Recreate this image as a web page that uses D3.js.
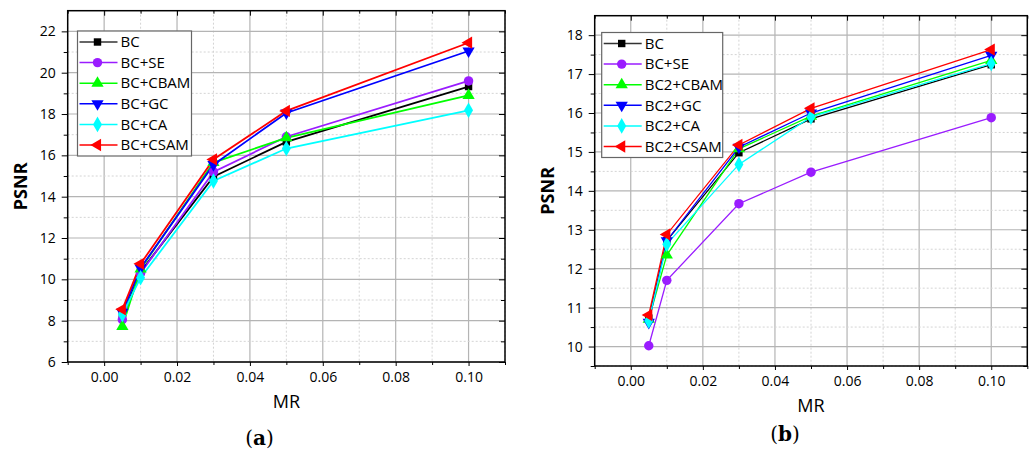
<!DOCTYPE html>
<html>
<head>
<meta charset="utf-8">
<script src="https://cdn.jsdelivr.net/npm/d3@7"></script>
<style>
  body { margin: 0; background: #fff; }
  svg { font-family: "Open Sans", "Noto Sans", sans-serif; }
</style>
</head>
<body>
<svg id="chart" width="1033" height="450"></svg>
<script>
// x values (MR) shared by both panels
const mr = [0.005, 0.01, 0.03, 0.05, 0.1];
const xTicks = [0, 0.02, 0.04, 0.06, 0.08, 0.1];

// panel (a)
const namesA = ['BC', 'BC+SE', 'BC+CBAM', 'BC+GC', 'BC+CA', 'BC+CSAM'];
const bcA   = [8.2, 10.37, 14.97, 16.65, 19.33];
const seA   = [8.05, 10.3, 15.2, 16.9, 19.6];
const cbamA = [7.72, 10.5, 15.65, 16.85, 18.9];
const gcA   = [8.4, 10.55, 15.55, 18.05, 21.05];
const caA   = [8.3, 10.08, 14.76, 16.33, 18.18];
const csamA = [8.55, 10.75, 15.8, 18.15, 21.45];

// panel (b)
const namesB = ['BC', 'BC+SE', 'BC2+CBAM', 'BC2+GC', 'BC2+CA', 'BC2+CSAM'];
const bcB   = [10.73, 12.72, 14.98, 15.85, 17.24];
const seB   = [10.02, 11.7, 13.67, 14.48, 15.88];
const cbamB = [10.7, 12.35, 15.08, 15.92, 17.35];
const gcB   = [10.62, 12.72, 15.12, 16.0, 17.48];
const caB   = [10.66, 12.63, 14.68, 15.9, 17.27];
const csamB = [10.81, 12.88, 15.18, 16.12, 17.63];

const colors = ['#000000', '#9a1cff', '#00ff00', '#0000ff', '#00ffff', '#ff0000'];
const symbols = [
  { type: d3.symbolSquare, rot: 0, size: 55 },
  { type: d3.symbolCircle, rot: 0, size: 70 },
  { type: d3.symbolTriangle, rot: 0, size: 65 },
  { type: d3.symbolTriangle, rot: 180, size: 65 },
  { type: d3.symbolDiamond, rot: 0, size: 70 },
  { type: d3.symbolTriangle, rot: -90, size: 65 }
];

const svg = d3.select('#chart');

function drawPanel(p) {
  const x = d3.scaleLinear().domain([-0.01, 0.11]).range([p.left, p.right]);
  const y = d3.scaleLinear().domain(p.yDomain).range([p.bottom, p.top]);
  const g = svg.append('g');

  const xMinor = [-0.01, 0.01, 0.03, 0.05, 0.07, 0.09, 0.11];
  const yMajor = d3.range(p.yTickStart, p.yDomain[1] + 0.001, p.yStep);
  const yMinor = d3.range(p.yTickStart + p.yStep / 2, p.yDomain[1], p.yStep)
    .concat(p.yTickStart - p.yStep / 2 >= p.yDomain[0] ? [p.yTickStart - p.yStep / 2] : []);

  // grid
  g.selectAll('.gx').data(xTicks).join('line')
    .attr('x1', d => x(d)).attr('x2', d => x(d)).attr('y1', p.top).attr('y2', p.bottom)
    .attr('stroke', '#b4b4b4').attr('stroke-width', 1.2);
  g.selectAll('.gxm').data(xMinor).join('line')
    .attr('x1', d => x(d)).attr('x2', d => x(d)).attr('y1', p.top).attr('y2', p.bottom)
    .attr('stroke', '#d4d4d4').attr('stroke-dasharray', '2,2');
  g.selectAll('.gy').data(yMajor).join('line')
    .attr('x1', p.left).attr('x2', p.right).attr('y1', d => y(d)).attr('y2', d => y(d))
    .attr('stroke', '#b4b4b4').attr('stroke-width', 1.2);
  g.selectAll('.gym').data(yMinor).join('line')
    .attr('x1', p.left).attr('x2', p.right).attr('y1', d => y(d)).attr('y2', d => y(d))
    .attr('stroke', '#d4d4d4').attr('stroke-dasharray', '2,2');

  // axes
  g.append('g').attr('transform', `translate(0,${p.bottom})`)
    .call(d3.axisBottom(x).tickValues(xTicks).tickFormat(d3.format('.2f')).tickSize(4).tickPadding(6));
  g.append('g').attr('transform', `translate(0,${p.bottom})`)
    .call(d3.axisBottom(x).tickValues(xMinor).tickFormat('').tickSize(3));
  g.append('g').attr('transform', `translate(${p.left},0)`)
    .call(d3.axisLeft(y).tickValues(yMajor).tickFormat(d3.format('d')).tickSize(6).tickPadding(6));
  g.append('g').attr('transform', `translate(${p.left},0)`)
    .call(d3.axisLeft(y).tickValues(yMinor).tickFormat('').tickSize(4));
  g.append('g').attr('transform', `translate(0,${p.top})`)
    .call(d3.axisBottom(x).tickValues(xTicks).tickFormat('').tickSize(5));
  g.append('g').attr('transform', `translate(0,${p.top})`)
    .call(d3.axisBottom(x).tickValues(xMinor).tickFormat('').tickSize(3));
  g.append('g').attr('transform', `translate(${p.right},0)`)
    .call(d3.axisLeft(y).tickValues(yMajor).tickFormat('').tickSize(6));
  g.append('g').attr('transform', `translate(${p.right},0)`)
    .call(d3.axisLeft(y).tickValues(yMinor).tickFormat('').tickSize(4));
  g.selectAll('.domain').remove();
  g.selectAll('.tick line').attr('stroke', '#000');
  g.selectAll('.tick text').attr('font-size', 14).attr('fill', '#000')
    .attr('font-family', '"Open Sans", sans-serif');

  g.append('rect')
    .attr('x', p.left).attr('y', p.top)
    .attr('width', p.right - p.left).attr('height', p.bottom - p.top)
    .attr('fill', 'none').attr('stroke', '#000').attr('stroke-width', 1.5);

  // series
  const line = d3.line().x((d, i) => x(mr[i])).y(d => y(d));
  p.series.forEach((vals, k) => {
    g.append('path').datum(vals).attr('d', line)
      .attr('fill', 'none').attr('stroke', colors[k]).attr('stroke-width', p.lw);
  });
  p.series.forEach((vals, k) => {
    const s = symbols[k];
    g.selectAll(null).data(vals).join('path')
      .attr('d', d3.symbol(s.type, s.size))
      .attr('transform', (d, i) => `translate(${x(mr[i])},${y(d)}) rotate(${s.rot})`)
      .attr('fill', colors[k]);
  });

  // legend
  const lg = g.append('g');
  lg.append('rect').attr('x', p.lx).attr('y', p.ly).attr('width', p.lw2).attr('height', 125)
    .attr('fill', '#fff').attr('stroke', '#666').attr('stroke-width', 1.2);
  p.names.forEach((name, k) => {
    const ry = p.ly + 11 + k * 20.6;
    const s = symbols[k];
    lg.append('line').attr('x1', p.lx + 2).attr('x2', p.lx + 40).attr('y1', ry).attr('y2', ry)
      .attr('stroke', colors[k] === '#000000' ? '#333' : colors[k]).attr('stroke-width', 1.5);
    lg.append('path').attr('d', d3.symbol(s.type, s.size)())
      .attr('transform', `translate(${p.lx + 20},${ry}) rotate(${s.rot})`).attr('fill', colors[k]);
    lg.append('text').attr('x', p.lx + 43).attr('y', ry).attr('dy', '0.35em')
      .attr('font-size', 15).text(name);
  });

  // axis titles
  g.append('text').attr('x', (p.left + p.right) / 2).attr('y', p.bottom + 46)
    .attr('text-anchor', 'middle').attr('font-size', 18).text('MR');
  g.append('text').attr('transform', `translate(${p.left - 41},${(p.top + p.bottom) / 2}) rotate(-90)`)
    .attr('text-anchor', 'middle').attr('font-size', 18).attr('font-weight', 'bold').text('PSNR');
  const cap = g.append('text').attr('x', p.capX).attr('y', p.capY)
    .attr('text-anchor', 'middle').attr('font-size', 20)
    .attr('font-family', '"DejaVu Serif", serif');
  cap.append('tspan').text('(');
  cap.append('tspan').attr('font-weight', 'bold').text(p.cap);
  cap.append('tspan').text(')');
}

drawPanel({
  left: 67.7, right: 505, top: 10.7, bottom: 362,
  yDomain: [6, 23], yStep: 2, yTickStart: 6,
  series: [bcA, seA, cbamA, gcA, caA, csamA], names: namesA, lw: 1.8,
  lx: 77.5, ly: 31, lw2: 114, cap: 'a', capX: 259.5, capY: 445
});
drawPanel({
  left: 594.7, right: 1027.3, top: 15.7, bottom: 366,
  yDomain: [9.5, 18.5], yStep: 1, yTickStart: 10,
  series: [bcB, seB, cbamB, gcB, caB, csamB], names: namesB, lw: 1.3,
  lx: 601.7, ly: 32.5, lw2: 121, cap: 'b', capX: 785, capY: 441
});
</script>
</body>
</html>
